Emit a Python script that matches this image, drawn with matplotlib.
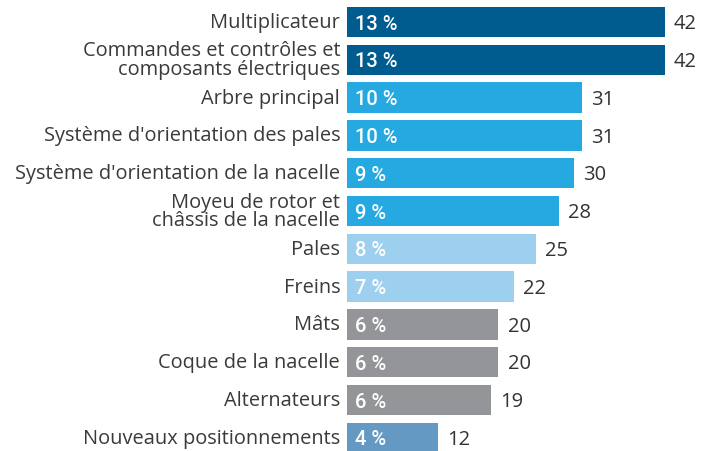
import matplotlib
matplotlib.use("Agg")
import matplotlib.pyplot as plt

categories = [
    "Multiplicateur",
    "Commandes et contrôles et\ncomposants électriques",
    "Arbre principal",
    "Système d'orientation des pales",
    "Système d'orientation de la nacelle",
    "Moyeu de rotor et\nchâssis de la nacelle",
    "Pales",
    "Freins",
    "Mâts",
    "Coque de la nacelle",
    "Alternateurs",
    "Nouveaux positionnements",
]
values = [42, 42, 31, 31, 30, 28, 25, 22, 20, 20, 19, 12]
percents = ["13 %", "13 %", "10 %", "10 %", "9 %", "9 %", "8 %", "7 %", "6 %", "6 %", "6 %", "4 %"]
colors = ["#005b8f", "#005b8f", "#25a9e0", "#25a9e0", "#25a9e0", "#25a9e0",
          "#9dcfee", "#9dcfee", "#939598", "#939598", "#939598", "#6399c2"]

W, H = 706, 452
fig = plt.figure(figsize=(W / 100, H / 100), dpi=100)
left_px = 347
ax = fig.add_axes([left_px / W, 0, 1 - left_px / W, 1])
scale = 318 / 42  # px per unit
ax.set_xlim(0, (W - left_px) / scale)
pitch = 37.8
top_c = 23
ax.set_ylim((H - top_c) / pitch, -top_c / pitch)

ypos = list(range(len(values)))
ax.barh(ypos, values, height=0.8, color=colors)
for y, v, p, c in zip(ypos, values, percents, categories):
    ax.text(1.0, y + 0.03, p, color="white", fontsize=14.5, fontweight="medium",
            va="center", ha="left", family="Roboto")
    ax.text(v + 1.2, y + 0.03, str(v), color="#333333", fontsize=14.5,
            va="center", ha="left", family="Open Sans")
    ax.text(-0.9, y, c, color="#3a3a3a", fontsize=14.4, va="center", ha="right",
            multialignment="right", family="Open Sans", linespacing=0.92)

ax.axis("off")
fig.savefig("out.png", dpi=100)
